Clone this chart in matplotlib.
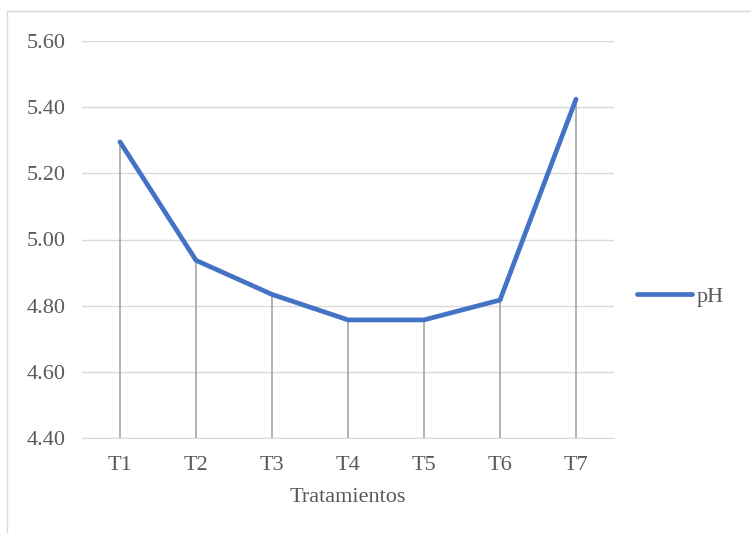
import matplotlib
matplotlib.use("Agg")
import matplotlib.pyplot as plt
from matplotlib.patches import Rectangle

categories = ["T1", "T2", "T3", "T4", "T5", "T6", "T7"]
ph_values = [5.295, 4.937, 4.834, 4.757, 4.757, 4.817, 5.424]
y_ticks = [4.40, 4.60, 4.80, 5.00, 5.20, 5.40, 5.60]

plt.rcParams['font.family'] = ['Liberation Serif', 'DejaVu Serif']
FS = 16

fig = plt.figure(figsize=(7.51, 5.33), dpi=100)
ax = fig.add_axes([82/751, 1-438/533, (614-82)/751, (438-41)/533])

x = list(range(len(categories)))
ymin = y_ticks[0]
ax.vlines(x, ymin, ph_values, color="#A5A5A5", linewidth=1.2, zorder=2)
ax.plot(x, ph_values, color="#4472C4", linewidth=3.4, solid_capstyle="round",
        solid_joinstyle="round", label="pH", zorder=3)

ax.set_xlim(-0.5, len(categories) - 0.5)
ax.set_ylim(y_ticks[0], y_ticks[-1])
ax.set_yticks(y_ticks)
ax.set_yticklabels([f"{v:.2f}" for v in y_ticks])
ax.set_xticks(x)
ax.set_xticklabels(categories)
ax.grid(axis="y", color="#D9D9D9", linewidth=1.0, zorder=0)
ax.set_axisbelow(True)
for s in ["top", "right", "left"]:
    ax.spines[s].set_visible(False)
ax.spines["bottom"].set_color("#D9D9D9")
ax.tick_params(axis="both", length=0, labelsize=FS, colors="#595959")
ax.tick_params(axis="x", pad=13)
ax.tick_params(axis="y", pad=12)
ax.set_xlabel("Tratamientos", fontsize=FS, color="#595959", labelpad=9)

leg = fig.legend(loc="center left", bbox_to_anchor=(628/751, 1-297/533), frameon=False,
                 fontsize=FS, handlelength=2.5, handletextpad=0.2, borderaxespad=0)
for t in leg.get_texts():
    t.set_color("#595959")

fig.patches.append(Rectangle((7/751, -0.1), 1.2, 1.1 - 11/533, transform=fig.transFigure,
                             fill=False, edgecolor="#D9D9D9", linewidth=1.0))

fig.savefig("out.png", dpi=100)
